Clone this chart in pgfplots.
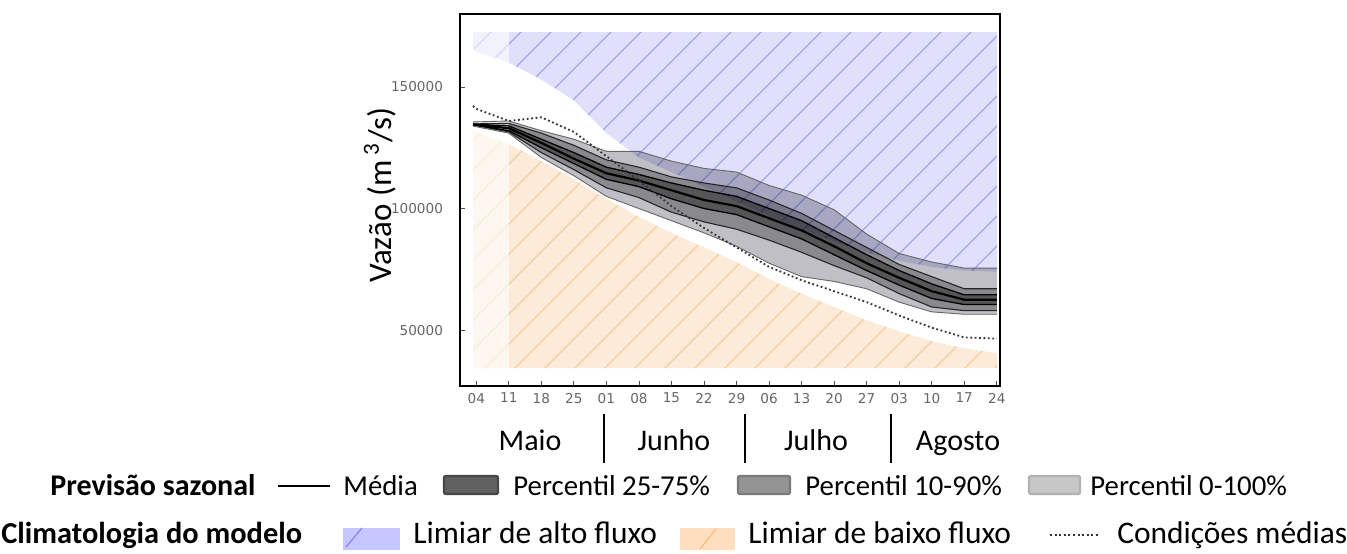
\documentclass[border=0pt]{standalone}
\usepackage{pgfplots}
\pgfplotsset{compat=1.18}
\usepackage{pgfplotstable}
\usepgfplotslibrary{fillbetween}
\usetikzlibrary{patterns}
\usepackage{fontspec}
\setmainfont{Carlito}
\newfontfamily\tickfont{DejaVu Sans}

\definecolor{hiblue}{RGB}{224,224,250}
\definecolor{hiline}{RGB}{165,165,238}
\definecolor{loor}{RGB}{252,235,217}
\definecolor{loline}{RGB}{244,206,160}

\pgfdeclarepatternformonly{widene}{\pgfqpoint{-1pt}{-1pt}}{\pgfqpoint{16pt}{16pt}}{\pgfqpoint{15pt}{15pt}}{%
  \pgfsetlinewidth{0.6pt}%
  \pgfpathmoveto{\pgfqpoint{0pt}{0pt}}%
  \pgfpathlineto{\pgfqpoint{15.1pt}{15.1pt}}%
  \pgfusepath{stroke}}

% climatology: high-flow threshold (hi), low-flow threshold (lo)
\pgfplotstableread{
x    hi     lo     top    bot
-0.1 166000 132000 172500 34400
0    164500 131500 172500 34400
1    160000 126500 172500 34400
2    153000 119500 172500 34400
3    144500 112000 172500 34400
4    131000 104000 172500 34400
5    121000 96500  172500 34400
6    115000 90000  172500 34400
7    109000 84000  172500 34400
8    103000 78000  172500 34400
9    97000  71000  172500 34400
10   91500  65000  172500 34400
11   86500  59500  172500 34400
12   82000  54000  172500 34400
13   78500  49500  172500 34400
14   76000  45500  172500 34400
15   74500  42500  172500 34400
16   74000  40500  172500 34400
}\clim

% mean conditions
\pgfplotstableread{
x    mc
-0.1 142200
0    141000
1    136000
2    137500
3    131500
4    121500
5    111500
6    101000
7    92000
8    84000
9    76000
10   70500
11   66000
12   61500
13   56000
14   51000
15   47000
16   46500
}\cond

% seasonal forecast: p100 p90 p75 mean p25 p10 p0
\pgfplotstableread{
x    a      b      c      m      d      e      f
-0.1 135600 134800 134700 134600 134500 134400 133900
1    136000 135000 134000 133000 132000 131500 131000
2    132000 131000 128500 127000 125000 123000 121000
3    128500 126000 123000 120500 118500 116000 113500
4    123500 120000 117000 114500 112000 108500 105000
5    123500 117000 114000 111500 109000 104500 100000
6    119500 113000 110500 107500 104000 98500  95000
7    116500 110500 107500 103500 100000 94500  90000
8    115000 108500 105000 101000 97500  91500  84500
9    109500 103500 100000 96000  92500  87000  77500
10   105500 98000  95000  91000  87500  82000  72000
11   99500  91000  88000  84500  81000  76500  70000
12   89500  84000  81000  77500  74500  71500  67000
13   81500  77000  74500  71500  68500  65000  61500
14   78000  72000  69000  66000  63000  59500  57500
15   75500  67000  64500  62500  60500  58000  56500
16   75500  67000  64500  62500  60500  58000  56500
}\fc

\begin{document}
\begin{tikzpicture}
\begin{axis}[
  at={(230pt,83.5pt)}, anchor=south west,
  scale only axis, width=270pt, height=186pt,
  xmin=-0.5, xmax=16.1, ymin=27000, ymax=180000,
  axis line style={line width=0.9pt},
  tick pos=left, tick align=inside,
  major tick length=2.5pt,
  tick style={black!70, line width=0.4pt},
  xtick={0,...,16},
  xticklabels={04,11,18,25,01,08,15,22,29,06,13,20,27,03,10,17,24},
  ytick={50000,100000,150000},
  yticklabels={50000,100000,150000},
  scaled y ticks=false,
  ticklabel style={font=\tickfont\fontsize{6.8}{7}\selectfont, text=black!60},
  yticklabel style={xshift=-5pt},
  axis on top,
]
% climatology
\addplot[name path=ctop, draw=none] table[x=x,y=top]{\clim};
\addplot[name path=chi, draw=none] table[x=x,y=hi]{\clim};
\addplot[name path=clo, draw=none] table[x=x,y=lo]{\clim};
\addplot[name path=cbot, draw=none] table[x=x,y=bot]{\clim};
\addplot[fill=hiblue, draw=none] fill between[of=ctop and chi];
\addplot[pattern=widene, pattern color=hiline, draw=none] fill between[of=ctop and chi];
\addplot[fill=loor, draw=none] fill between[of=clo and cbot];
\addplot[pattern=widene, pattern color=loline, draw=none] fill between[of=clo and cbot];
% forecast
\addplot[name path=fa, draw=none] table[x=x,y=a]{\fc};
\addplot[name path=fb, draw=none] table[x=x,y=b]{\fc};
\addplot[name path=fc, draw=none] table[x=x,y=c]{\fc};
\addplot[name path=fd, draw=none] table[x=x,y=d]{\fc};
\addplot[name path=fe, draw=none] table[x=x,y=e]{\fc};
\addplot[name path=ff, draw=none] table[x=x,y=f]{\fc};
\addplot[fill=black!90!blue, fill opacity=0.25, draw=none] fill between[of=fa and ff];
\addplot[fill=black, fill opacity=0.28, draw=none] fill between[of=fb and fe];
\addplot[fill=black, fill opacity=0.38, draw=none] fill between[of=fc and fd];
\addplot[black!60, line width=0.45pt] table[x=x,y=a]{\fc};
\addplot[black!60, line width=0.45pt] table[x=x,y=f]{\fc};
\addplot[black!85, line width=0.55pt] table[x=x,y=b]{\fc};
\addplot[black!85, line width=0.55pt] table[x=x,y=e]{\fc};
\addplot[black, line width=0.65pt] table[x=x,y=c]{\fc};
\addplot[black, line width=0.65pt] table[x=x,y=d]{\fc};
\addplot[black, line width=1.1pt] table[x=x,y=m]{\fc};
% mean conditions
\addplot[black!80, line width=0.9pt, dash pattern=on 0.9pt off 1.3pt] table[x=x,y=mc]{\cond};
% faded past period
\addplot[name path=ovt, draw=none] coordinates {(-0.1,172500) (1,172500)};
\addplot[name path=ovb, draw=none] coordinates {(-0.1,34400) (1,34400)};
\addplot[fill=white, fill opacity=0.6, draw=none] fill between[of=ovt and ovb];
\end{axis}

% y label
\node[rotate=90, font=\fontsize{16.5}{19}\selectfont] at (190pt,179pt) {Vazão (m\,\textsuperscript{3}/s)};

% months
\begin{scope}[font=\fontsize{15}{17}\selectfont]
\node[anchor=base] at (265pt,51.5pt) {Maio};
\node[anchor=base] at (337pt,51.5pt) {Junho};
\node[anchor=base] at (408pt,51.5pt) {Julho};
\node[anchor=base] at (479pt,51.5pt) {Agosto};
\draw[line width=1pt] (301.8pt,69.5pt) -- (301.8pt,45pt);
\draw[line width=1pt] (372.5pt,69.5pt) -- (372.5pt,45pt);
\draw[line width=1pt] (445.5pt,69.5pt) -- (445.5pt,45pt);
\end{scope}

% legend row 1
\begin{scope}[font=\fontsize{14.4}{16}\selectfont]
\node[anchor=base west, inner sep=0pt, font=\fontsize{15}{17}\selectfont\bfseries] at (25pt,29pt) {Previsão sazonal};
\draw[line width=1.4pt] (139pt,33.5pt) -- (165pt,33.5pt);
\node[anchor=base west, inner sep=0pt] at (171.5pt,29pt) {Média};
\draw[fill=black!62, draw=black!72, line width=1.2pt, rounded corners=1pt] (222pt,29.5pt) rectangle (249pt,38.5pt);
\node[anchor=base west, inner sep=0pt] at (256.5pt,29pt) {Percentil 25-75\%};
\draw[fill=black!42, draw=black!52, line width=1.2pt, rounded corners=1pt] (369pt,29.5pt) rectangle (395pt,38.5pt);
\node[anchor=base west, inner sep=0pt] at (402.5pt,29pt) {Percentil 10-90\%};
\draw[fill=black!22, draw=black!30, line width=1.2pt, rounded corners=1pt] (514.5pt,29.5pt) rectangle (540pt,38.5pt);
\node[anchor=base west, inner sep=0pt] at (545pt,29pt) {Percentil 0-100\%};
\end{scope}

% legend row 2
\begin{scope}[font=\fontsize{15.7}{18}\selectfont]
\node[anchor=base west, inner sep=0pt, font=\fontsize{15.2}{18}\selectfont\bfseries] at (0.5pt,5pt) {Climatologia do modelo};
\fill[blue!22] (171.5pt,1.5pt) rectangle (200pt,12.5pt);
\draw[blue!50, line width=0.6pt] (173pt,3pt) -- (181pt,12.5pt);
\node[anchor=base west, inner sep=0pt] at (206.5pt,5pt) {Limiar de alto fluxo};
\fill[orange!25] (340pt,1.5pt) rectangle (367.5pt,12.5pt);
\draw[orange!55, line width=0.6pt] (350pt,2pt) -- (358pt,12pt);
\node[anchor=base west, inner sep=0pt] at (374pt,5pt) {Limiar de baixo fluxo};
\draw[black!80, line width=1pt, dash pattern=on 1pt off 1.3pt] (525pt,9pt) -- (550pt,9pt);
\node[anchor=base west, inner sep=0pt] at (558.5pt,5pt) {Condições médias};
\end{scope}
\pgfresetboundingbox
\path[use as bounding box] (0,0) rectangle (673.5pt,276.5pt);
\end{tikzpicture}
\end{document}
